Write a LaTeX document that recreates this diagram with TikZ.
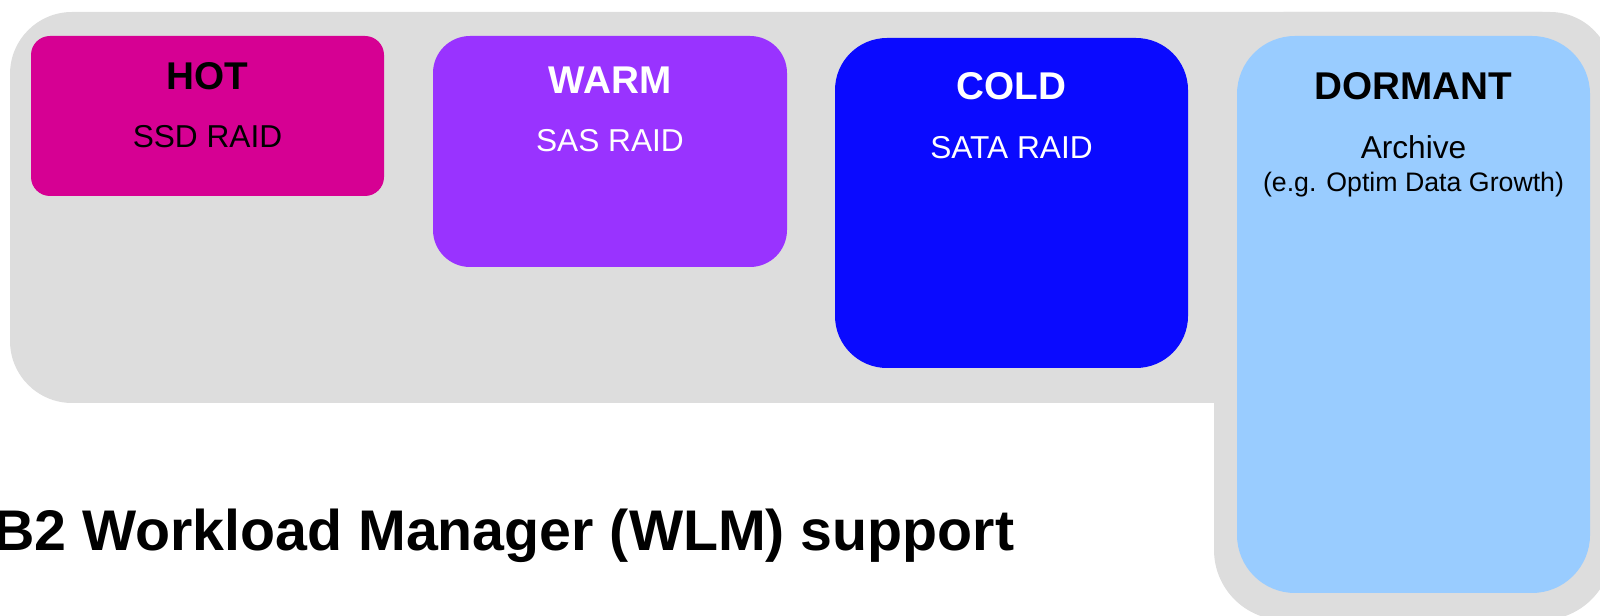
\documentclass[tikz,border=0pt]{standalone}
\usepackage{fontspec}
\setmainfont{Liberation Sans}
\definecolor{bggray}{HTML}{DDDDDD}
\definecolor{hotpink}{HTML}{D60093}
\definecolor{warmviolet}{HTML}{9933FF}
\definecolor{coldblue}{HTML}{0A0AFF}
\definecolor{dormantblue}{HTML}{99CCFF}
\tikzset{
	tiertitle/.style={anchor=base, inner sep=0pt, font=\fontsize{11}{13}\selectfont\bfseries},
	tiersub/.style={anchor=base, inner sep=0pt, font=\fontsize{9}{11}\selectfont},
	tiernote/.style={anchor=base, inner sep=0pt, font=\fontsize{7.6}{9}\selectfont}
}

\begin{document}
\begin{tikzpicture}[x=0.01cm, y=-0.01cm]
		\useasboundingbox (0,0) rectangle (1600,616);
		\clip (0,0) rectangle (1600,616);
		
		% gray background
		\fill[bggray, rounded corners=0.62cm] (10,12) rectangle (1612,403);
		\fill[bggray, rounded corners=0.7cm] (1214,12) rectangle (1612,620);
		
		% tiers
		\fill[hotpink, rounded corners=0.19cm] (31,36) rectangle (384,196);
		\fill[warmviolet, rounded corners=0.37cm] (433,36) rectangle (787,267);
		\fill[coldblue, rounded corners=0.52cm] (835,38) rectangle (1188,368);
		\fill[dormantblue, rounded corners=0.58cm] (1237,36) rectangle (1590,593);
		
		\node[tiertitle] (hottitle) at (207.5,90) {HOT};
		\node[tiersub] (hotsub) at (207.5,148) {SSD RAID};
		
		\node[tiertitle, text=white] (warmtitle) at (610,94) {WARM};
		\node[tiersub, text=white] (warmsub) at (610,152) {SAS RAID};
		
		\node[tiertitle, text=white] (coldtitle) at (1011.5,100) {COLD};
		\node[tiersub, text=white] (coldsub) at (1011.5,159) {SATA RAID};
		
		\node[tiertitle] (dormanttitle) at (1413.5,100) {DORMANT};
		\node[tiersub] (dormantsub) at (1413.5,159) {Archive};
		\node[tiernote] (dormantnote) at (1413.5,192) {(e.g. Optim Data Growth)};
		
		\node[anchor=base east, inner sep=0pt, font=\fontsize{16.3}{19}\selectfont\bfseries] (wlm) at (1015,551) {DB2 Workload Manager (WLM) support};
	\end{tikzpicture}
\end{document}
